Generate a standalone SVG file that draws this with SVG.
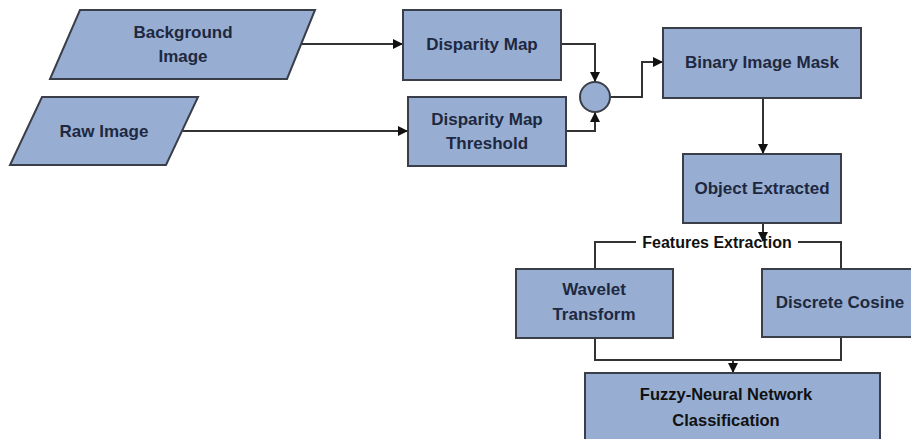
<svg xmlns="http://www.w3.org/2000/svg" width="911" height="439" viewBox="0 0 911 439">
<style>
.n{fill:#97aed2;stroke:#3a3e48;stroke-width:2}
.t{font-family:"Liberation Sans",Arial,sans-serif;font-weight:bold;font-size:17px;fill:#1e2840;text-anchor:middle;dominant-baseline:central}
.c{fill:none;stroke:#333;stroke-width:2}
.f{font-family:"Liberation Sans",Arial,sans-serif;font-weight:bold;font-size:16px;fill:#111;text-anchor:middle;dominant-baseline:central}
</style>
<defs>
<marker id="a" markerWidth="10" markerHeight="10" refX="9" refY="5" orient="auto" markerUnits="userSpaceOnUse">
<path d="M0,0 L10,5 L0,10 z" fill="#111"/>
</marker>
</defs>
<rect width="911" height="439" fill="#fff"/>
<g id="connectors">
<path class="c" d="M302,44 H402" marker-end="url(#a)"/>
<path class="c" d="M183,131 H407" marker-end="url(#a)"/>
<path class="c" d="M561,44 H595 V81" marker-end="url(#a)"/>
<path class="c" d="M566,131 H595 V113" marker-end="url(#a)"/>
<path class="c" d="M611,97 H642 V62 H662" marker-end="url(#a)"/>
<path class="c" d="M763,98 V153" marker-end="url(#a)"/>
<path class="c" d="M595,269 V242 H841 V269"/>
<path class="c" d="M595,338 V360 H841 V337"/>
<path class="c" d="M733,360 V372" marker-end="url(#a)"/>
</g>
<g id="features-label">
<rect x="636" y="233" width="162" height="18" fill="#fff"/>
<text class="f" x="717" y="242">Features Extraction</text>
</g>
<g id="connector-object-features">
<path class="c" d="M763,223 V241" marker-end="url(#a)"/>
</g>
<g id="background-image">
<polygon class="n" points="80,10 315,10 287,79 50,79"/>
<text class="t" x="183" y="32">Background</text>
<text class="t" x="183" y="56">Image</text>
</g>
<g id="raw-image">
<polygon class="n" points="42,97 198,97 166,165 10,165"/>
<text class="t" x="104" y="131">Raw Image</text>
</g>
<g id="disparity-map">
<rect class="n" x="403" y="10" width="158" height="70"/>
<text class="t" x="482" y="44">Disparity Map</text>
</g>
<g id="disparity-threshold">
<rect class="n" x="408" y="97" width="158" height="69"/>
<text class="t" x="487" y="119">Disparity Map</text>
<text class="t" x="487" y="143">Threshold</text>
</g>
<g id="junction">
<circle class="n" cx="595" cy="97" r="15"/>
</g>
<g id="binary-mask">
<rect class="n" x="663" y="28" width="198" height="70"/>
<text class="t" x="762" y="62">Binary Image Mask</text>
</g>
<g id="object-extracted">
<rect class="n" x="683" y="154" width="158" height="69"/>
<text class="t" x="762" y="188">Object Extracted</text>
</g>
<g id="wavelet">
<rect class="n" x="516" y="269" width="157" height="69"/>
<text class="t" x="594" y="289">Wavelet</text>
<text class="t" x="594" y="314">Transform</text>
</g>
<g id="dct">
<rect class="n" x="762" y="269" width="152" height="68"/>
<text class="t" x="840" y="302">Discrete Cosine</text>
</g>
<g id="fuzzy">
<rect class="n" x="585" y="373" width="295" height="80"/>
<text class="t" x="726" y="394" style="font-size:16.5px;fill:#111">Fuzzy-Neural Network</text>
<text class="t" x="726" y="420" style="font-size:16.5px;fill:#111">Classification</text>
</g>
</svg>
